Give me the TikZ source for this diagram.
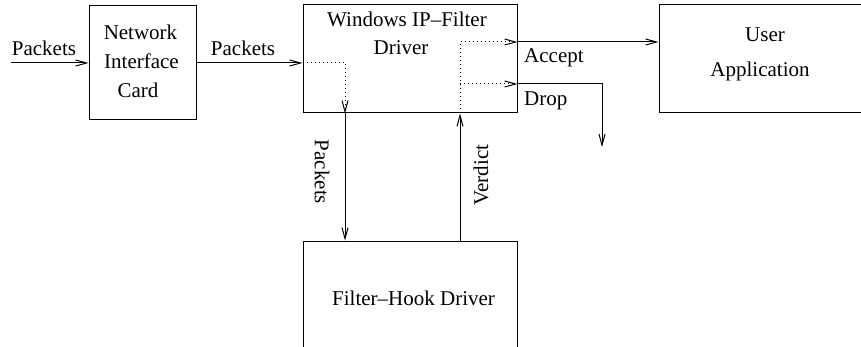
\documentclass[tikz,border=0pt]{standalone}
\usepackage{fontspec}
\setmainfont{Liberation Serif}
\usetikzlibrary{arrows.meta}
\begin{document}
\begin{tikzpicture}[x=1pt,y=-1pt,
  box/.style={draw, line width=1pt, rectangle, inner sep=0pt},
  lbl/.style={inner sep=0pt, font=\fontsize{21}{25}\selectfont},
  flow/.style={line width=1pt, -{Straight Barb[length=11pt,width=6pt]}},
  dotflow/.style={flow, dash pattern=on 1pt off 3pt},
]
\clip (0,0) rectangle (861,347);

% boxes
\node[box, minimum width=107pt, minimum height=114pt] (nic) at (142.5,63) {};
\node[box, minimum width=214pt, minimum height=108pt] (win) at (410,59) {};
\node[box, minimum width=241pt, minimum height=108pt] (app) at (779.5,59) {};
\node[box, minimum width=214pt, minimum height=160pt] (hook) at (410,321) {};

% routing points
\coordinate (src) at (11,63);
\coordinate (split) at (345,63);
\coordinate (merge) at (460,42);
\coordinate (dropsplit) at (460,84);
\coordinate (dropbend) at (602,84);
\coordinate (dropend) at (602,147);

% connectors
\draw[flow] (src) -- (src -| nic.west);
\draw[flow] (nic.east |- src) -- (src -| win.west);
\draw[dotflow] (src -| win.west) -- (split) -- (split |- win.south);
\draw[flow] (split |- win.south) -- (split |- hook.north);
\draw[flow] (merge |- hook.north) -- (merge |- win.south);
\draw[dotflow] (merge |- win.south) -- (merge) -- (merge -| win.east);
\draw[dotflow] (dropsplit) -- (dropsplit -| win.east);
\draw[flow] (merge -| win.east) -- (merge -| app.west);
\draw[flow] (dropsplit -| win.east) -- (dropbend) -- (dropend);

% texts
\node[lbl, anchor=base] (pin) at (44,56) {Packets};
\node[lbl, anchor=base] (pnic) at (243,56) {Packets};
\node[lbl, anchor=base] (nic1) at (140.5,40) {Network};
\node[lbl, anchor=base] (nic2) at (141.5,69) {Interface};
\node[lbl, anchor=base] (nic3) at (138,98) {Card};
\node[lbl, anchor=base] (win1) at (407,27) {Windows IP--Filter};
\node[lbl, anchor=base] (win2) at (401,55) {Driver};
\node[lbl, anchor=base west] (acc) at (524,63) {Accept};
\node[lbl, anchor=base west] (drp) at (524,106) {Drop};
\node[lbl, anchor=base] (app1) at (765,42) {User};
\node[lbl, anchor=base] (app2) at (760,77) {Application};
\node[lbl, anchor=base west] (hook1) at (332,305) {Filter--Hook Driver};
\node[lbl, rotate=-90] (pdown) at (322,172) {Packets};
\node[lbl, rotate=90] (verd) at (481,175) {Verdict};
\end{tikzpicture}
\end{document}
